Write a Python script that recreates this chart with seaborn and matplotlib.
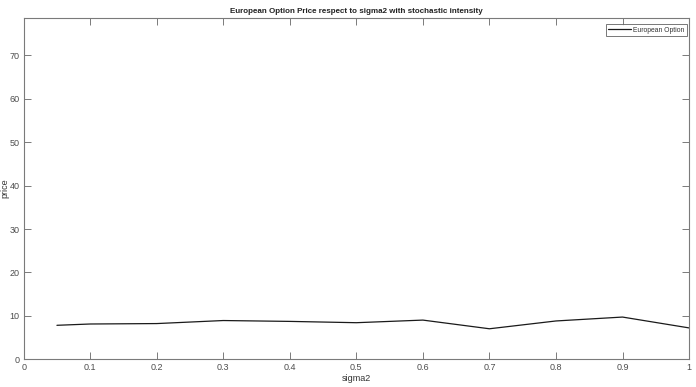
import matplotlib
matplotlib.use("Agg")
import matplotlib.pyplot as plt
import seaborn as sns
import pandas as pd

sigma2 = [0.05, 0.1, 0.2, 0.3, 0.4, 0.5, 0.6, 0.7, 0.8, 0.9, 1.0]
price = [7.8, 8.1, 8.2, 8.9, 8.7, 8.4, 9.0, 7.0, 8.8, 9.7, 7.2]
xticks = [0, 0.1, 0.2, 0.3, 0.4, 0.5, 0.6, 0.7, 0.8, 0.9, 1]
xticklabels = ["0", "0.1", "0.2", "0.3", "0.4", "0.5", "0.6", "0.7", "0.8", "0.9", "1"]
yticks = [0, 10, 20, 30, 40, 50, 60, 70]

sns.set_theme(style="white")
plt.rcParams['font.family'] = ['Liberation Sans', 'DejaVu Sans']

df = pd.DataFrame({"sigma2": sigma2, "price": price})

fig = plt.figure(figsize=(6.96, 3.87), dpi=100)
ax = fig.add_axes([0.034, 0.072, 0.956, 0.881])
sns.lineplot(data=df, x="sigma2", y="price", color="#1a1a1a", linewidth=0.9,
             label="European Option", ax=ax)

ax.set_xlim(0, 1)
ax.set_ylim(0, 78.6)
ax.set_xticks(xticks)
ax.set_xticklabels(xticklabels)
ax.set_yticks(yticks)
gray = "#4d4d4d"
for s in ax.spines.values():
    s.set_color("#7a7a7a")
    s.set_linewidth(0.8)
ax.tick_params(direction="in", length=5, width=0.7, colors="#7a7a7a",
               labelcolor=gray, labelsize=6.5, top=True, right=True,
               bottom=True, left=True, pad=3)
ax.set_xlabel("sigma2", fontsize=6.5, color="#333333", labelpad=1)
ax.set_ylabel("price", fontsize=6.5, color="#333333")
ax.yaxis.set_label_coords(-0.021, 0.5)
ax.set_title("European Option Price respect to sigma2 with stochastic intensity",
             fontsize=5.8, fontweight="bold", color="#222222", pad=4)
leg = ax.legend(loc="upper right", bbox_to_anchor=(0.997, 0.9815),
                fontsize=4.9, frameon=True, fancybox=False,
                edgecolor="#555555", borderpad=0.35, handlelength=3.4,
                handletextpad=0.3, borderaxespad=0.0)
leg.get_frame().set_linewidth(0.7)
for t in leg.get_texts():
    t.set_color("#333333")

fig.savefig("out.png", dpi=100)
